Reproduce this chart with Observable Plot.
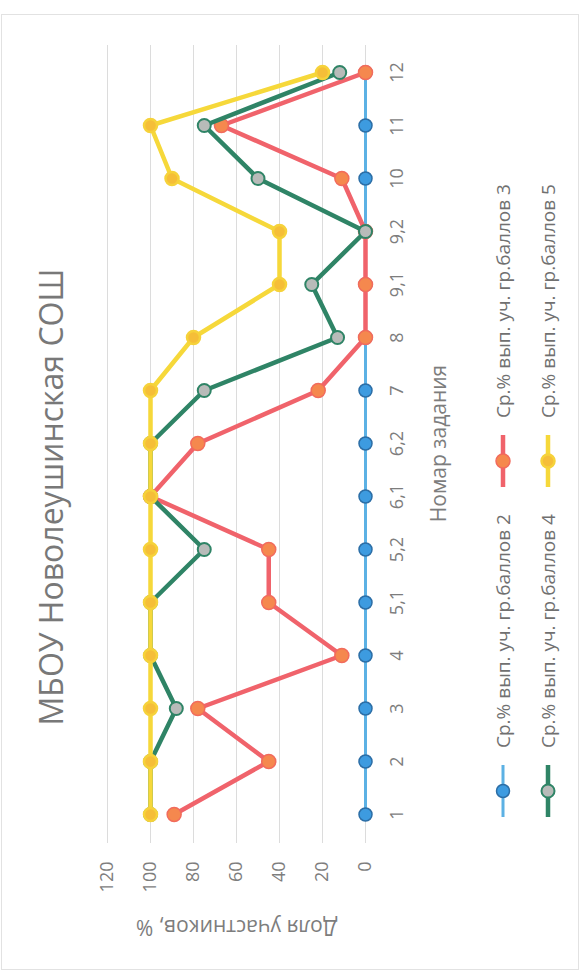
<!DOCTYPE html>
<html>
<head>
<meta charset="utf-8">
<script src="https://cdn.jsdelivr.net/npm/d3@7"></script>
<script src="https://cdn.jsdelivr.net/npm/@observablehq/plot@0.6"></script>
<style>
  html, body { margin: 0; padding: 0; background: #ffffff; }
  body { width: 579px; height: 972px; overflow: hidden; position: relative; }
  #rot {
    position: absolute; left: 0; top: 0;
    width: 972px; height: 579px;
    transform-origin: 0 0;
    transform: translate(0, 972px) rotate(-90deg);
    font-family: "Open Sans", sans-serif;
    background: #ffffff;
  }
  #frame { position: absolute; left: 2px; top: 1px; width: 954px; height: 576px; border: 1px solid #e2e2e2; }
  #title {
    position: absolute; left: 0; top: 30px; width: 950px;
    text-align: center; font-size: 32px; line-height: 42px; color: #787878;
  }
  #plot { position: absolute; left: 0; top: 80px; }
  .leg { position: absolute; display: flex; align-items: center; font-size: 19px; color: #707070; white-space: nowrap; }
  .leg svg { margin-right: 16px; }
</style>
</head>
<body>
<div id="rot">
  <div id="frame"></div>
  <div id="title"></div>
  <div id="plot"></div>
  <div id="legend"></div>
</div>
<script>
const titleText = "МБОУ Новолеушинская СОШ";
const xLabel = "Номар задания";
const yLabel = "Доля участников, %";
const tasks = ["1","2","3","4","5,1","5,2","6,1","6,2","7","8","9,1","9,2","10","11","12"];
const yTicks = [0, 20, 40, 60, 80, 100, 120];
const seriesNames = [
  "Ср.% вып. уч. гр.баллов 2",
  "Ср.% вып. уч. гр.баллов 3",
  "Ср.% вып. уч. гр.баллов 4",
  "Ср.% вып. уч. гр.баллов 5"
];
const grade2 = [0, 0, 0, 0, 0, 0, 0, 0, 0, 0, 0, 0, 0, 0, 0];
const grade3 = [89, 45, 78, 11, 45, 45, 100, 78, 22, 0, 0, 0, 11, 67, 0];
const grade4 = [100, 100, 88, 100, 100, 75, 100, 100, 75, 13, 25, 0, 50, 75, 12];
const grade5 = [100, 100, 100, 100, 100, 100, 100, 100, 100, 80, 40, 40, 90, 100, 20];

const styles = [
  {line: "#5cb1e4", width: 3, fill: "#3d9be0", stroke: "#2c6ea6", r: 6.5, sw: 1.5},
  {line: "#f0636b", width: 4.5, fill: "#f5884e", stroke: "#f26b5c", r: 7, sw: 1.5},
  {line: "#2f8466", width: 4.5, fill: "#b8bbb9", stroke: "#2f8466", r: 6.5, sw: 2},
  {line: "#f6d83a", width: 4.5, fill: "#f5be38", stroke: "#f6d23a", r: 6.5, sw: 2.5}
];
const allSeries = [grade2, grade3, grade4, grade5];

document.getElementById("title").textContent = titleText;

const marks = [
  Plot.gridY(yTicks, {stroke: "#dcdcdc", strokeOpacity: 1, strokeWidth: 1})
];
allSeries.forEach((vals, i) => {
  const data = tasks.map((t, j) => ({task: t, value: vals[j]}));
  const s = styles[i];
  marks.push(Plot.line(data, {x: "task", y: "value", stroke: s.line, strokeWidth: s.width, strokeLinejoin: "round", strokeLinecap: "round"}));
  marks.push(Plot.dot(data, {x: "task", y: "value", r: s.r, fill: s.fill, stroke: s.stroke, strokeWidth: s.sw}));
});
marks.push(Plot.axisY(yTicks, {tickSize: 0, tickPadding: 19, fontSize: 18, fill: "#7d7d7d",
  label: yLabel, labelAnchor: "center", labelOffset: 92, labelArrow: "none"}));
marks.push(Plot.axisX({tickSize: 0, tickPadding: 25, fontSize: 18, fill: "#7d7d7d",
  label: xLabel, labelAnchor: "center", labelOffset: 80, labelArrow: "none"}));

const chart = Plot.plot({
  width: 972,
  height: 380,
  marginTop: 27,
  marginBottom: 95,
  marginLeft: 129,
  marginRight: 45,
  style: {fontFamily: "'Open Sans', sans-serif", fontSize: "18px", background: "transparent", overflow: "visible"},
  x: {type: "point", domain: tasks, padding: 0.5},
  y: {domain: [0, 120]},
  marks
});
chart.querySelectorAll('[aria-label="x-axis label"] text, [aria-label="y-axis label"] text').forEach(t => {
  t.setAttribute("font-size", "21");
  t.style.fontSize = "21px";
});
document.getElementById("plot").appendChild(chart);

// Legend
const legend = document.getElementById("legend");
const legPos = [
  {left: 154, top: 488}, {left: 484, top: 488},
  {left: 154, top: 533}, {left: 484, top: 533}
];
seriesNames.forEach((name, i) => {
  const s = styles[i];
  const item = document.createElement("div");
  item.className = "leg";
  item.style.left = legPos[i].left + "px";
  item.style.top = legPos[i].top + "px";
  item.style.height = "30px";
  const svg = d3.create("svg").attr("width", 54).attr("height", 30);
  svg.append("line").attr("x1", 1).attr("x2", 53).attr("y1", 15).attr("y2", 15)
    .attr("stroke", s.line).attr("stroke-width", s.width);
  svg.append("circle").attr("cx", 27).attr("cy", 15).attr("r", s.r)
    .attr("fill", s.fill).attr("stroke", s.stroke).attr("stroke-width", s.sw);
  item.appendChild(svg.node());
  const span = document.createElement("span");
  span.textContent = name;
  item.appendChild(span);
  legend.appendChild(item);
});
</script>
</body>
</html>
